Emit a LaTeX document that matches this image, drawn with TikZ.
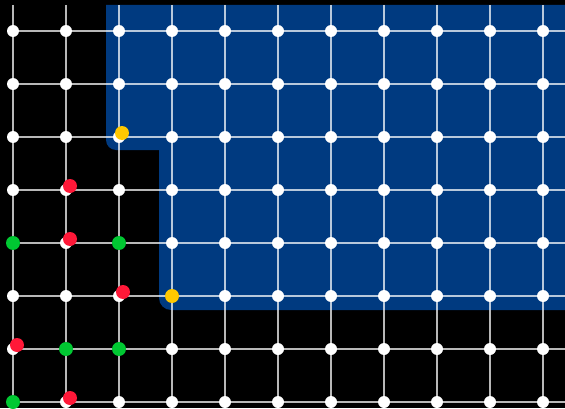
\documentclass[tikz,border=0pt]{standalone}
\definecolor{regionblue}{RGB}{0, 58, 128}
\definecolor{hitred}{RGB}{255, 24, 56}
\definecolor{seedgreen}{RGB}{0, 200, 50}
\definecolor{edgeyellow}{RGB}{255, 200, 0}
\usepackage{tikz}
\usetikzlibrary{positioning}

\begin{document}
\begin{tikzpicture}[x=1pt, y=1pt,
  gridline/.style={white, opacity=0.72, line width=1.4pt},
  site/.style={circle, fill=white, inner sep=0pt, minimum size=12pt},
  greendot/.style={circle, fill=seedgreen, inner sep=0pt, minimum size=14pt},
  reddot/.style={circle, fill=hitred, inner sep=0pt, minimum size=14pt, xshift=4pt, yshift=4pt},
  yellowdot/.style={circle, fill=edgeyellow, inner sep=0pt, minimum size=14pt}]
  % Background
  \fill[black] (0,0) rectangle (565,408);
  \useasboundingbox (0,0) rectangle (565,408);

  % Region
  \fill[regionblue] (106,403) -- (570,403) -- (570,98) -- (171,98)
    arc[start angle=-90, end angle=-180, radius=12] -- (159,258) -- (116,258)
    arc[start angle=-90, end angle=-180, radius=10] -- cycle;

  % Grid
  \foreach \i in {0,...,10}
    \foreach \j in {0,...,7}
      \coordinate (g-\i-\j) at ({13+53*\i},{377-53*\j});
  \coordinate (top) at (0,403);
  \coordinate (bottom) at (0,0);
  \coordinate (right) at (565,0);
  \foreach \i in {0,...,10}
    \draw[gridline] (g-\i-0 |- top) -- (g-\i-7 |- bottom);
  \foreach \j in {0,...,7}
    \draw[gridline] (g-0-\j) -- (g-0-\j -| right);

  % Sites
  \foreach \i in {0,...,10}
    \foreach \j in {0,...,7}
      \node[site] (s-\i-\j) at (g-\i-\j) {};

  % Green sites
  \foreach \i/\j in {0/4, 2/4, 1/6, 2/6, 0/7}
    \node[greendot] (green-\i-\j) at (g-\i-\j) {};

  % Red sites
  \foreach \i/\j in {1/3, 1/4, 2/5, 0/6, 1/7}
    \node[reddot] (red-\i-\j) at (g-\i-\j) {};

  % Yellow sites
  \node[yellowdot, xshift=3pt, yshift=4pt] (yellow-2-2) at (g-2-2) {};
  \node[yellowdot] (yellow-3-5) at (g-3-5) {};
\end{tikzpicture}
\end{document}
